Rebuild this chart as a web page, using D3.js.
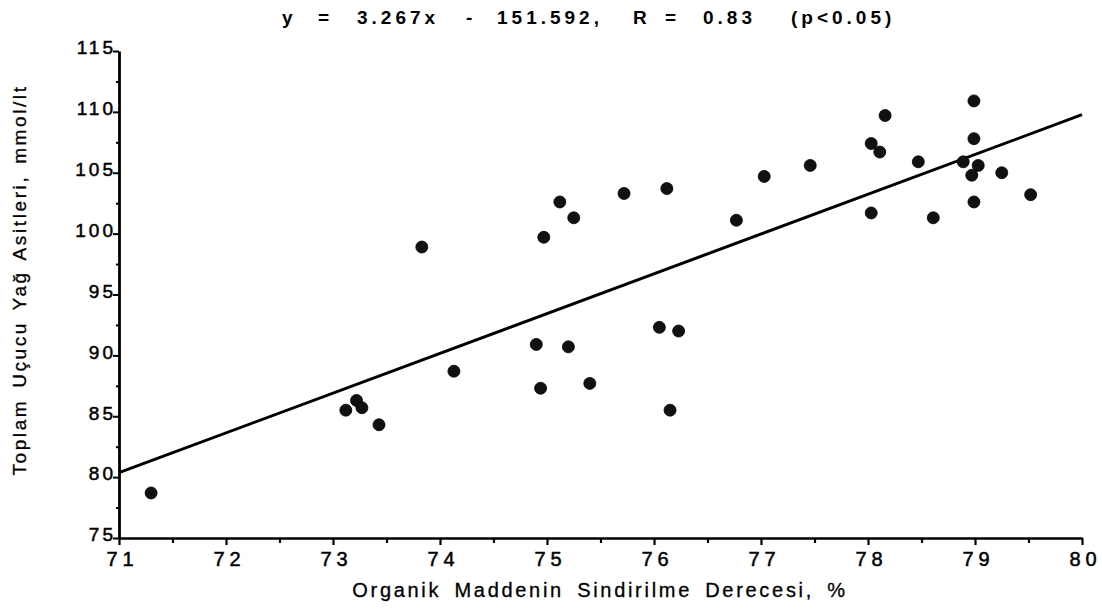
<!DOCTYPE html>
<html>
<head>
<meta charset="utf-8">
<script src="https://cdn.jsdelivr.net/npm/d3@7"></script>
<style>
	body { margin: 0; background: #fff; }
	text { font-family: "Liberation Sans", Arial, sans-serif; fill: #000; }
</style>
</head>
<body>
<div id="scatter"></div>
<script>
// data
var omd = [71.30, 73.12, 73.22, 73.27, 73.43, 73.83, 74.13, 74.90, 74.94, 74.97,
	75.12, 75.20, 75.25, 75.40, 75.72, 76.05, 76.12, 76.15, 76.23, 76.77,
	77.03, 77.46, 78.03, 78.03, 78.11, 78.16, 78.47, 78.61, 78.89, 78.97,
	78.99, 78.99, 78.99, 79.03, 79.25, 79.52];
var tuya = [78.7, 85.5, 86.3, 85.7, 84.3, 98.9, 88.7, 90.9, 87.3, 99.7,
	102.6, 90.7, 101.3, 87.7, 103.3, 92.3, 103.7, 85.5, 92.0, 101.1,
	104.7, 105.6, 107.4, 101.7, 106.7, 109.7, 105.9, 101.3, 105.9, 104.8,
	110.9, 107.8, 102.6, 105.6, 105.0, 103.2];
var slope = 3.267;
var intercept = -151.592;
var xTicks = [71, 72, 73, 74, 75, 76, 77, 78, 79, 80];
var yTicks = [75, 80, 85, 90, 95, 100, 105, 110, 115];
// title pieces and where each one starts
var titleParts = ["y", "=", "3.267x", "-", "151.592,", "R", "=", "0.83", "(p<0.05)"];
var titleStarts = [282, 318, 357, 466, 497, 633, 665, 703, 791];

var svgWidth = 1102;
var svgHeight = 615;

var svg = d3.select("#scatter")
	.append("svg")
	.attr("width", svgWidth)
	.attr("height", svgHeight);

var xScale = d3.scaleLinear().domain([71, 80]).range([119, 1082]);
var yScale = d3.scaleLinear().domain([75, 115]).range([538, 51]);

// minor ticks at the half steps
var xMinor = d3.range(71.5, 80, 1);
var yMinor = d3.range(77.5, 115, 5);

svg.append("g")
	.attr("transform", "translate(0,538)")
	.call(d3.axisBottom(xScale).tickValues(xMinor).tickSize(5).tickFormat(""))
	.call(g => g.select(".domain").remove())
	.selectAll("line").attr("stroke", "#000").attr("stroke-width", 2.2);

var xAxis = svg.append("g")
	.attr("transform", "translate(0,538)")
	.call(d3.axisBottom(xScale).tickValues(xTicks).tickSize(7).tickSizeOuter(0).tickPadding(7));
xAxis.select(".domain").attr("stroke", "#000").attr("stroke-width", 2.6);
xAxis.selectAll("line").attr("stroke", "#000").attr("stroke-width", 2.2);
xAxis.selectAll("text")
	.attr("dx", "3px")
	.attr("stroke", "#000")
	.attr("stroke-width", 0.5)
	.style("font-size", "20px")
	.style("letter-spacing", "5px")
	.style("font-family", "'Liberation Sans', Arial, sans-serif");

svg.append("g")
	.attr("transform", "translate(119,0)")
	.call(d3.axisLeft(yScale).tickValues(yMinor).tickSize(3).tickFormat(""))
	.call(g => g.select(".domain").remove())
	.selectAll("line").attr("stroke", "#000").attr("stroke-width", 2);

var yAxis = svg.append("g")
	.attr("transform", "translate(119,0)")
	.call(d3.axisLeft(yScale).tickValues(yTicks).tickSize(6).tickSizeOuter(0).tickPadding(0));
yAxis.select(".domain").attr("stroke", "#000").attr("stroke-width", 2.8);
yAxis.selectAll("line").attr("stroke", "#000").attr("stroke-width", 2);
yAxis.selectAll("text")
	.attr("dx", "3px")
	.attr("dy", "0.15em")
	.attr("stroke", "#000")
	.attr("stroke-width", 0.5)
	.style("font-size", "19px")
	.style("letter-spacing", "3px")
	.style("font-family", "'Liberation Sans', Arial, sans-serif");

// regression line from the equation
var fitLine = d3.line()
	.x(d => xScale(d))
	.y(d => yScale(slope * d + intercept));

svg.append("path")
	.datum([71, 80])
	.attr("d", fitLine)
	.attr("fill", "none")
	.attr("stroke", "#000")
	.attr("stroke-width", 3);

// points
svg.append("g")
	.selectAll("circle")
	.data(omd)
	.enter()
	.append("circle")
	.attr("cx", d => xScale(d))
	.attr("cy", (d, i) => yScale(tuya[i]))
	.attr("r", 6)
	.attr("fill", "#111")
	.attr("stroke", "#000")
	.attr("stroke-width", 0.8);

// title
svg.append("text")
	.attr("y", 24)
	.attr("font-size", 19)
	.attr("font-weight", "bold")
	.style("letter-spacing", "4px")
	.selectAll("tspan")
	.data(titleParts)
	.enter()
	.append("tspan")
	.attr("x", (d, i) => titleStarts[i])
	.text(d => d);

// axis titles
svg.append("text")
	.attr("x", 600)
	.attr("y", 597)
	.attr("text-anchor", "middle")
	.attr("font-size", 20)
	.attr("stroke", "#000")
	.attr("stroke-width", 0.3)
	.style("letter-spacing", "2.7px")
	.style("word-spacing", "5px")
	.text("Organik Maddenin Sindirilme Derecesi, %");

svg.append("text")
	.attr("transform", "translate(26,280) rotate(-90)")
	.attr("text-anchor", "middle")
	.attr("font-size", 19)
	.attr("stroke", "#000")
	.attr("stroke-width", 0.3)
	.style("letter-spacing", "2.6px")
	.style("word-spacing", "3px")
	.text("Toplam Uçucu Yağ Asitleri, mmol/lt");
</script>
</body>
</html>
